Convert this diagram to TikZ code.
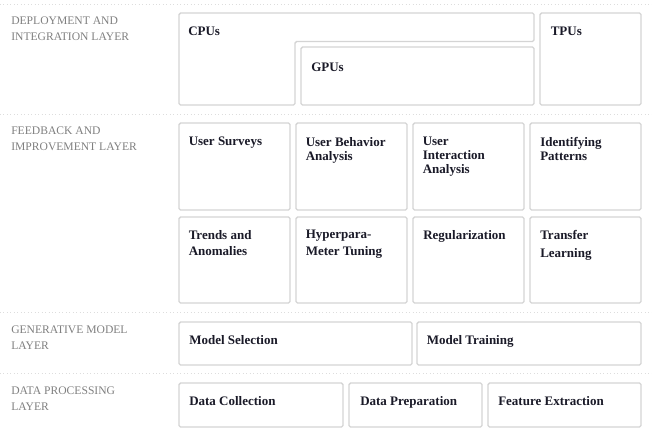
\documentclass[tikz,border=0pt]{standalone}
\usepackage{fontspec}
\setmainfont{Liberation Serif}
\usetikzlibrary{fit}
\definecolor{boxline}{HTML}{D4D4D4}
\definecolor{sepline}{HTML}{DDDDDD}
\definecolor{labelgray}{HTML}{808080}
\definecolor{boxtext}{HTML}{1A1A28}
\tikzset{
  box/.style={draw=boxline, line width=0.95pt, rounded corners=1.2pt, inner sep=0pt, fill=white},
  lay/.style={anchor=north west, inner sep=0pt, align=left, text=labelgray, font=\fontsize{8.7}{12}\selectfont},
  btxt/.style={anchor=north west, inner sep=0pt, align=left, text=boxtext, font=\fontsize{9.75}{10.5}\selectfont\bfseries},
  sep/.style={draw=sepline, dotted, line width=0.6pt}
}
\begin{document}
\begin{tikzpicture}[x=0.75pt,y=-0.75pt]
\useasboundingbox[fill=white] (0,0) rectangle (652,437);
% separators
\coordinate (s1a) at (0,4.5);   \coordinate (s1b) at (652,4.5);
\coordinate (s2a) at (0,114);   \coordinate (s2b) at (652,114);
\coordinate (s3a) at (0,312);   \coordinate (s3b) at (652,312);
\coordinate (s4a) at (0,373.5); \coordinate (s4b) at (652,373.5);
\draw[sep] (s1a) -- (s1b);
\draw[sep] (s2a) -- (s2b);
\draw[sep] (s3a) -- (s3b);
\draw[sep] (s4a) -- (s4b);

% layer labels
\node[lay] (l1) at (11,17) {DEPLOYMENT AND\\INTEGRATION LAYER};
\node[lay] (l2) at (11,127) {FEEDBACK AND\\IMPROVEMENT LAYER};
\node[lay] (l3) at (11,325.5) {GENERATIVE MODEL\\LAYER};
\node[lay] (l4) at (11,386.5) {DATA PROCESSING\\LAYER};

% deployment layer
\draw[box] (179,13) -- (534,13) -- (534,41.5) -- (295,41.5) -- (295,105) -- (179,105) -- cycle;
\node[box, fit={(301,47) (534,105)}] (gpu) {};
\node[box, fit={(540,13) (641,105)}] (tpu) {};
\node[btxt] (tcpu) at (188,27) {CPUs};
\node[btxt] (tgpu) at (311,62.5) {GPUs};
\node[btxt] (ttpu) at (550.5,27) {TPUs};

% feedback layer
\node[box, fit={(179,123) (290,210)}] (f1) {};
\node[box, fit={(296,123) (407,210)}] (f2) {};
\node[box, fit={(413,123) (524,210)}] (f3) {};
\node[box, fit={(530,123) (641,210)}] (f4) {};
\node[box, fit={(179,217) (290,303)}] (f5) {};
\node[box, fit={(296,217) (407,303)}] (f6) {};
\node[box, fit={(413,217) (524,303)}] (f7) {};
\node[box, fit={(530,217) (641,303)}] (f8) {};
\node[btxt] (tf1) at (188.5,137) {User Surveys};
\node[btxt] (tf2) at (305.5,137) {User Behavior\\Analysis};
\node[btxt] (tf3) at (422.5,137) {User\\Interaction\\Analysis};
\node[btxt] (tf4) at (540,137) {Identifying\\Patterns};
\node[btxt, font=\fontsize{9.75}{12.5}\selectfont\bfseries] (tf5) at (188.5,230) {Trends and\\Anomalies};
\node[btxt, font=\fontsize{9.75}{12.5}\selectfont\bfseries] (tf6) at (305.5,230) {Hyperpara-\\Meter Tuning};
\node[btxt] (tf7) at (423,230) {Regularization};
\node[btxt, font=\fontsize{9.75}{13.3}\selectfont\bfseries] (tf8) at (540,230) {Transfer\\Learning};

% generative model layer
\node[box, fit={(179,322) (412,365)}] (g1) {};
\node[box, fit={(417,322) (641,365)}] (g2) {};
\node[btxt] (tg1) at (189,335) {Model Selection};
\node[btxt] (tg2) at (426.5,335) {Model Training};

% data processing layer
\node[box, fit={(179,383) (343,427)}] (d1) {};
\node[box, fit={(349,383) (482,427)}] (d2) {};
\node[box, fit={(488,383) (641,427)}] (d3) {};
\node[btxt] (td1) at (189,396.5) {Data Collection};
\node[btxt] (td2) at (360,396.5) {Data Preparation};
\node[btxt] (td3) at (498,396.5) {Feature Extraction};
\end{tikzpicture}
\end{document}
